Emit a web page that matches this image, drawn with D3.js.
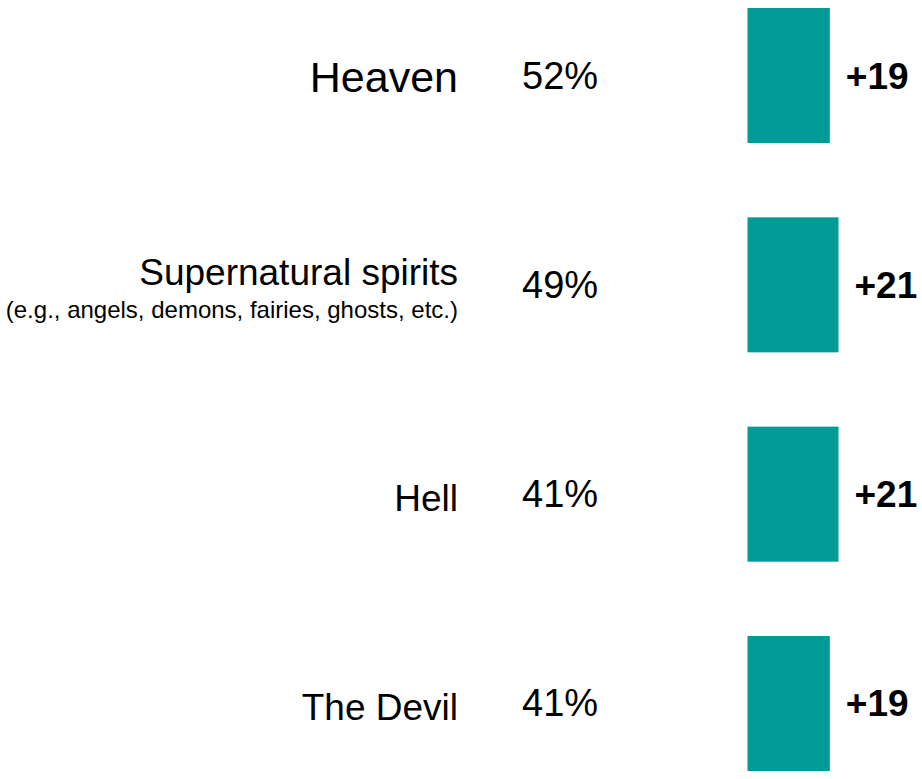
<!DOCTYPE html>
<html>
<head>
<meta charset="utf-8">
<script src="https://cdn.jsdelivr.net/npm/d3@7"></script>
<style>
  html, body { margin: 0; padding: 0; background: #ffffff; }
  svg { display: block; }
  text { font-family: "Liberation Sans", Arial, sans-serif; fill: #000; }
</style>
</head>
<body>
<svg id="chart" width="922" height="779"></svg>
<script>
// Data
const categories = ["Heaven", "Supernatural spirits", "Hell", "The Devil"];
const subtitles = ["", "(e.g., angels, demons, fairies, ghosts, etc.)", "", ""];
const percents = [52, 49, 41, 41];
const changes = [19, 21, 21, 19];

const svg = d3.select("#chart");

const y = d3.scaleBand()
  .domain(categories)
  .range([8, 771])
  .paddingInner(0.355)
  .paddingOuter(0);

const x = d3.scaleLinear()
  .domain([0, 21])
  .range([747.5, 838.5]);

const rows = categories.map((c, i) => ({
  cat: c, sub: subtitles[i], pct: percents[i], chg: changes[i]
}));

const g = svg.selectAll("g.row").data(rows).join("g").attr("class", "row");

const mid = d => y(d.cat) + y.bandwidth() / 2;

// Bars
g.append("rect")
  .attr("x", x(0))
  .attr("y", d => y(d.cat))
  .attr("width", d => x(d.chg) - x(0))
  .attr("height", y.bandwidth())
  .attr("fill", "#009a97");

// Change labels
g.append("text")
  .attr("x", d => x(d.chg) + 16)
  .attr("y", d => mid(d) + 13)
  .attr("font-size", 37)
  .attr("font-weight", "bold")
  .text(d => "+" + d.chg);

// Percent labels
g.append("text")
  .attr("x", 522)
  .attr("y", d => mid(d) + 13)
  .attr("font-size", 38)
  .text(d => d.pct + "%");

// Category labels
g.append("text")
  .attr("x", 458)
  .attr("text-anchor", "end")
  .attr("y", d => d.sub ? mid(d) : (d.cat === "Heaven" ? mid(d) + 16 : mid(d) + 17))
  .attr("font-size", d => d.cat === "Heaven" ? 43 : 37)
  .text(d => d.cat);

// Subtitles
g.filter(d => d.sub).append("text")
  .attr("x", 458)
  .attr("text-anchor", "end")
  .attr("y", d => mid(d) + 33)
  .attr("font-size", 24)
  .text(d => d.sub);
</script>
</body>
</html>
